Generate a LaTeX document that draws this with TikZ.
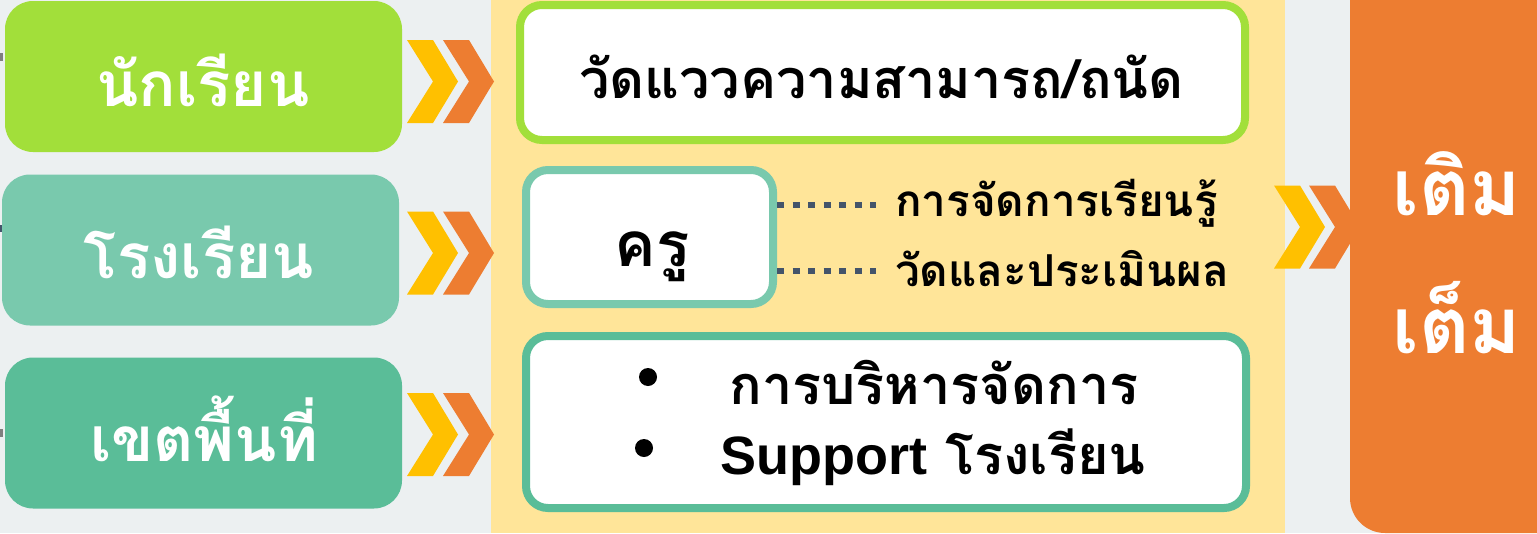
\documentclass[tikz,border=0pt]{standalone}
\usepackage{fontspec}
\newfontfamily\thai[Script=Thai]{Loma}
\newfontfamily\latin{Liberation Sans}
\definecolor{bg}{HTML}{ECF0F1}
\definecolor{panel}{HTML}{FFE599}
\definecolor{lime}{HTML}{A2DF3A}
\definecolor{tealA}{HTML}{79C9AD}
\definecolor{tealB}{HTML}{5ABD98}
\definecolor{orng}{HTML}{ED7D31}
\definecolor{chevy}{HTML}{FFC000}
\definecolor{navy}{HTML}{44546A}
\definecolor{tick}{HTML}{7F7F7F}
\tikzset{
  lbox/.style={rectangle, rounded corners=28pt, minimum width=397pt, minimum height=151pt, inner sep=0pt},
  ltext/.style={anchor=base, inner sep=0pt, text=white, font=\thai\bfseries\fontsize{62}{62}\selectfont},
  mbox/.style={rectangle, rounded corners=22pt, fill=white, line width=8pt, inner sep=0pt},
  mtext/.style={inner sep=0pt, text=black, font=\thai\bfseries\fontsize{54}{54}\selectfont},
  stext/.style={inner sep=0pt, text=black, font=\thai\bfseries\fontsize{44}{44}\selectfont},
  btext/.style={inner sep=0pt, text=black, font=\thai\bfseries\fontsize{54}{54}\selectfont},
  otext/.style={anchor=base, inner sep=0pt, text=white, font=\thai\bfseries\fontsize{78}{78}\selectfont},
  dotline/.style={navy, line width=5.5pt, dash pattern=on 7pt off 8.5pt},
  chev/.pic={\fill[pic actions] (0,-41.5) -- (26,-41.5) -- (51,0) -- (26,41.5) -- (0,41.5) -- (26,0) -- cycle;}
}
\begin{document}
\begin{tikzpicture}[x=1pt,y=-1pt]
\clip (0,0) rectangle (1537,533);
\fill[bg] (0,0) rectangle (1537,533);
\fill[panel] (491,0) rectangle (1285,533);
% left edge ticks
\fill[tick] (0,53) rectangle (2.5,61);
\fill[navy] (0,225) rectangle (2.5,232);
\fill[tick] (0,429) rectangle (2.5,437);
% left boxes
\node[lbox, fill=lime] (stu) at (203.5,76.5) {};
\node[ltext] (stut) at (203,106) {นักเรียน};
\node[lbox, fill=tealA] (sch) at (200.5,250) {};
\node[ltext] (scht) at (199,278) {โรงเรียน};
\node[lbox, fill=tealB] (area) at (203.5,433) {};
\node[ltext] (areat) at (204,461) {เขตพื้นที่};
% chevrons
\pic[fill=chevy] at (407,81.5) {chev};
\pic[fill=orng] at (443,81.5) {chev};
\pic[fill=chevy] at (407,253) {chev};
\pic[fill=orng] at (443,253) {chev};
\pic[fill=chevy] at (407,434.5) {chev};
\pic[fill=orng] at (443,434.5) {chev};
\pic[fill=chevy] at (1274,227) {chev};
\pic[fill=orng] at (1309,227) {chev};
% middle boxes
\node[mbox, draw=lime, minimum width=725pt, minimum height=135pt] (meas) at (882.5,72.5) {};
\node[mtext, anchor=base] (meast) at (881.5,98) {วัดแววความสามารถ/ถนัด};
\node[mbox, draw=tealA, minimum width=247pt, minimum height=134pt] (kru) at (649.5,237) {};
\node[mtext, anchor=base, font=\thai\bfseries\fontsize{62}{62}\selectfont] (krut) at (652,266) {ครู};
\coordinate (d1) at (876,205);
\coordinate (d2) at (876,271);
\draw[dotline] (kru.east |- d1) -- (d1);
\draw[dotline] (kru.east |- d2) -- (d2);
\node[stext, anchor=base west] (t1) at (895,216) {การจัดการเรียนรู้};
\node[stext, anchor=base west] (t2) at (895,286) {วัดและประเมินผล};
\node[mbox, draw=tealB, minimum width=720pt, minimum height=172pt] (admin) at (886,422) {};
\fill[black] (648,377) circle (9pt);
\fill[black] (644,448) circle (9pt);
\node[btext, anchor=base] (b1) at (934,404) {การบริหารจัดการ};
\node[btext, anchor=base] (b2) at (933,474) {{\latin\bfseries Support} โรงเรียน};
% right box
\node[rectangle, rounded corners=35pt, fill=orng, minimum width=250pt, minimum height=573pt, inner sep=0pt] (full) at (1475,246.5) {};
\node[otext] (fa) at (1457,215) {เติม};
\node[otext] (fb) at (1457,353) {เต็ม};
\end{tikzpicture}
\end{document}
